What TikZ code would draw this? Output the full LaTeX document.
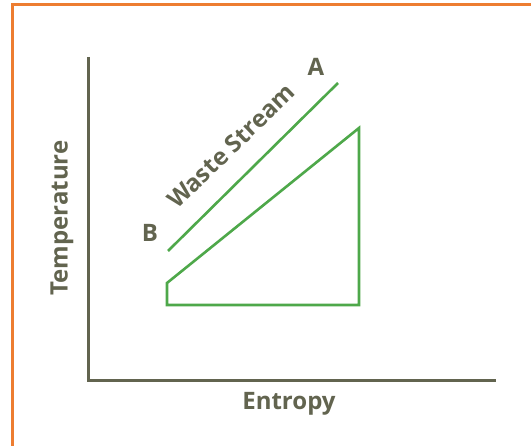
\documentclass[tikz,border=0pt]{standalone}
\usepackage{fontspec}
\setmainfont{Open Sans}
\usepackage{tikz}
\usetikzlibrary{positioning}
\definecolor{frameorange}{HTML}{ED7D31}
\definecolor{axisgray}{HTML}{62644F}
\definecolor{streamgreen}{HTML}{4EA84A}

\begin{document}
\begin{tikzpicture}[
    x=1pt, y=-1pt,
    axis/.style={draw=axisgray, line width=3pt},
    stream/.style={draw=streamgreen, line width=2.6pt},
    label/.style={text=axisgray, font=\bfseries\fontsize{24}{28}\selectfont, inner sep=0pt}
]
\useasboundingbox (0,0) rectangle (531,446);
% frame
\draw[frameorange, line width=3pt] (12,450) -- (12,5) -- (535,5);
% axes
\coordinate (top) at (88,57);
\coordinate (origin) at (88,381);
\coordinate (right) at (496,381);
\draw[axis] (top) -- (origin) -- (right);
\node[label, rotate=90] (temp) at (62,218) {Temperature};
\node[label] (entropy) at (289,404) {Entropy};
% waste stream
\coordinate (b) at (168,251);
\coordinate (a) at (338,83);
\draw[stream] (b) -- (a);
\node[label] (alab) at (316,67) {A};
\node[label] (blab) at (150,233) {B};
\node[label, rotate=44] (waste) at (231,146) {Waste Stream};
% process
\coordinate (p1) at (167,283);
\coordinate (p2) at (359,128);
\coordinate (p3) at (359,305);
\coordinate (p4) at (167,305);
\draw[stream, line join=miter] (p1) -- (p2) -- (p3) -- (p4) -- cycle;
\end{tikzpicture}
\end{document}
